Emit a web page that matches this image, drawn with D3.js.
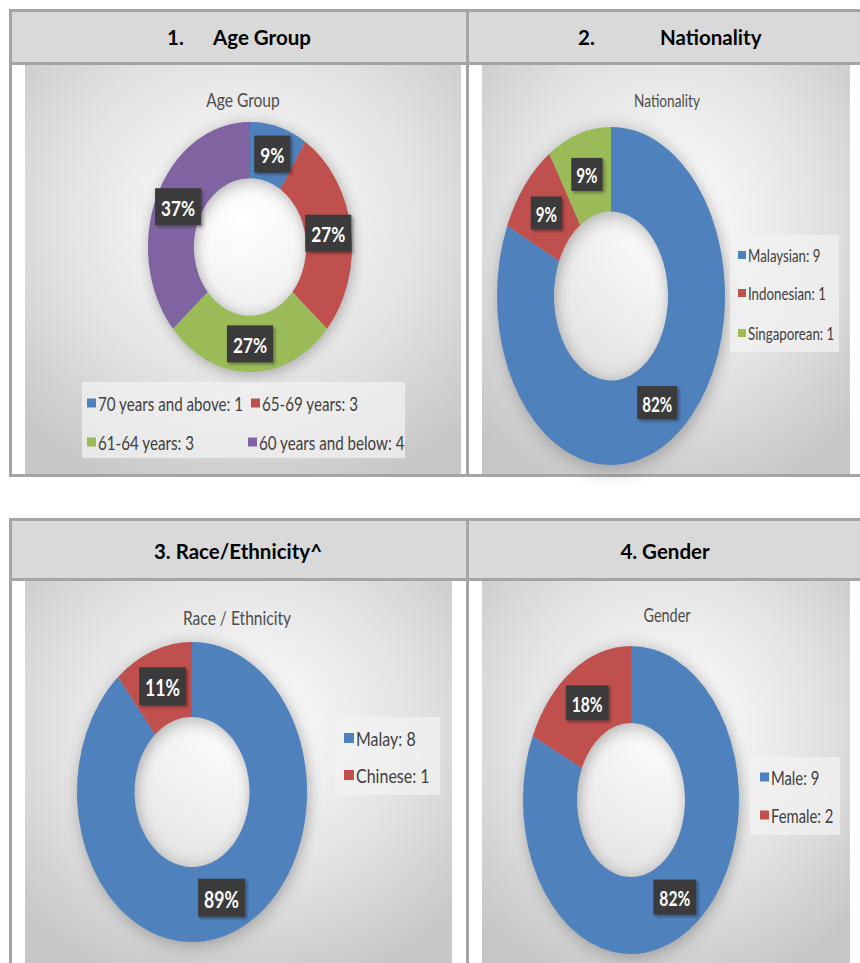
<!DOCTYPE html>
<html>
<head>
<meta charset="utf-8">
<script src="https://cdn.jsdelivr.net/npm/d3@7"></script>
<style>
  html, body { margin: 0; padding: 0; background: #fff; }
  svg { display: block; }
</style>
</head>
<body>
<svg id="chart" width="860" height="963"></svg>
<script>
// data
const ageCats = ['70 years and above', '65-69 years', '61-64 years', '60 years and below'];
const ageCounts = [1, 3, 3, 4];
const agePct = ['9%', '27%', '27%', '37%'];

const natCats = ['Malaysian', 'Indonesian', 'Singaporean'];
const natCounts = [9, 1, 1];
const natPct = ['82%', '9%', '9%'];

const raceCats = ['Malay', 'Chinese'];
const raceCounts = [8, 1];
const racePct = ['89%', '11%'];

const genderCats = ['Male', 'Female'];
const genderCounts = [9, 2];
const genderPct = ['82%', '18%'];

const seriesColors = ['#4f81bd', '#c0504d', '#9bbb59', '#8064a2'];

const svg = d3.select('#chart');
const defs = svg.append('defs');

const bg = defs.append('radialGradient').attr('id', 'bgGrad')
  .attr('cx', '50%').attr('cy', '38%').attr('r', '72%');
bg.append('stop').attr('offset', '0%').attr('stop-color', '#ffffff');
bg.append('stop').attr('offset', '55%').attr('stop-color', '#e4e4e4');
bg.append('stop').attr('offset', '100%').attr('stop-color', '#c6c6c6');

const shadow = defs.append('filter').attr('id', 'ringShadow')
  .attr('x', '-30%').attr('y', '-30%').attr('width', '160%').attr('height', '160%');
shadow.append('feGaussianBlur').attr('stdDeviation', 6);

const boxShadow = defs.append('filter').attr('id', 'boxShadow')
  .attr('x', '-30%').attr('y', '-30%').attr('width', '160%').attr('height', '160%');
boxShadow.append('feDropShadow').attr('dx', 2).attr('dy', 2)
  .attr('stdDeviation', 1.5).attr('flood-opacity', 0.35);

const chartFont = 'Lato, "Open Sans", sans-serif';
const headFont = 'Lato, "Open Sans", sans-serif';

// table frames
function drawTable(top, headBottom, bottom) {
  const t = svg.append('g');
  t.append('rect').attr('x', 10.5).attr('y', top).attr('width', 880).attr('height', headBottom - top)
    .attr('fill', '#d9d9d9');
  t.append('line').attr('x1', 10.5).attr('x2', 870).attr('y1', top).attr('y2', top)
    .attr('stroke', '#a5a5a5').attr('stroke-width', 3);
  t.append('line').attr('x1', 10.5).attr('x2', 870).attr('y1', headBottom).attr('y2', headBottom)
    .attr('stroke', '#a5a5a5').attr('stroke-width', 3);
  if (bottom < 963) {
    t.append('line').attr('x1', 10.5).attr('x2', 870).attr('y1', bottom).attr('y2', bottom)
      .attr('stroke', '#a5a5a5').attr('stroke-width', 3);
  }
  t.append('line').attr('x1', 10.5).attr('x2', 10.5).attr('y1', top - 1.5).attr('y2', bottom + 1.5)
    .attr('stroke', '#a5a5a5').attr('stroke-width', 3);
  t.append('line').attr('x1', 467.5).attr('x2', 467.5).attr('y1', top).attr('y2', bottom + 1.5)
    .attr('stroke', '#a5a5a5').attr('stroke-width', 3);
  return t;
}

function headText(parts, y) {
  const txt = svg.append('text')
    .attr('y', y)
    .attr('font-family', headFont)
    .attr('font-weight', 700)
    .attr('font-size', 20.5)
    .attr('fill', '#000');
  parts.forEach(p => txt.append('tspan').attr('x', p.x).attr('text-anchor', p.anchor || 'start').text(p.text));
}

function squeezed(g, x, y, str, size, sx, opts = {}) {
  return g.append('text')
    .attr('transform', `translate(${x},${y}) scale(${sx},1)`)
    .attr('text-anchor', opts.anchor || 'start')
    .attr('dominant-baseline', 'central')
    .attr('font-family', chartFont)
    .attr('font-weight', opts.weight || 400)
    .attr('font-size', size)
    .attr('fill', opts.fill || '#404040')
    .text(str);
}

function drawPanel(cfg) {
  const g = svg.append('g');
  g.append('rect')
    .attr('x', cfg.box[0]).attr('y', cfg.box[1])
    .attr('width', cfg.box[2] - cfg.box[0]).attr('height', cfg.box[3] - cfg.box[1])
    .attr('fill', 'url(#bgGrad)');

  squeezed(g, cfg.title[0], cfg.title[1], cfg.titleText, cfg.titleSize, cfg.sx,
    { anchor: 'middle', fill: '#4d4d4d' });

  const pie = d3.pie().sort(null).value(d => d)(cfg.counts);
  const arc = d3.arc().innerRadius(cfg.inner * 100).outerRadius(100);

  const ring = g.append('g')
    .attr('transform', `translate(${cfg.cx},${cfg.cy}) scale(${cfg.rx / 100},${cfg.ry / 100})`);

  ring.append('g').attr('filter', 'url(#ringShadow)').attr('opacity', 0.45)
    .attr('transform', 'translate(1.5,2)')
    .selectAll('path').data(pie).join('path')
    .attr('d', arc).attr('fill', '#555');

  ring.selectAll('path.slice').data(pie).join('path')
    .attr('class', 'slice')
    .attr('d', arc)
    .attr('fill', (d, i) => seriesColors[i])
    .attr('stroke', 'none');

  // data labels at ring centroid
  pie.forEach((d, i) => {
    const c = arc.centroid(d);
    const x = cfg.cx + c[0] * cfg.rx / 100;
    const y = cfg.cy + c[1] * cfg.ry / 100;
    const lg = g.append('g');
    const rect = lg.append('rect').attr('fill', '#3a3a3a').attr('filter', 'url(#boxShadow)');
    const t = squeezed(lg, x, y + 1, cfg.pct[i], cfg.labelSize, cfg.sx,
      { anchor: 'middle', fill: '#ffffff', weight: 700 });
    const w = t.node().getComputedTextLength() * cfg.sx + cfg.padX * 2;
    rect.attr('x', x - w / 2).attr('y', y - cfg.boxH / 2).attr('width', w).attr('height', cfg.boxH);
  });

  // legend
  const lb = cfg.legendBox;
  g.append('rect').attr('x', lb[0]).attr('y', lb[1])
    .attr('width', lb[2] - lb[0]).attr('height', lb[3] - lb[1])
    .attr('fill', '#f2f2f2').attr('fill-opacity', 0.75);
  cfg.cats.forEach((c, i) => {
    const p = cfg.legendPos[i];
    g.append('rect')
      .attr('x', p[0]).attr('y', p[1] - cfg.sq / 2)
      .attr('width', cfg.sq).attr('height', cfg.sq)
      .attr('fill', seriesColors[i]);
    squeezed(g, p[0] + cfg.sq + 2, p[1] + 0.5, `${c}: ${cfg.counts[i]}`, cfg.legendSize, cfg.sx);
  });
}

drawTable(10.5, 63.5, 475.5);
drawTable(519.5, 579.5, 980);

drawPanel({
  box: [25, 65, 461, 474], title: [243, 100], titleText: 'Age Group', titleSize: 19, sx: 0.82,
  cats: ageCats, counts: ageCounts, pct: agePct,
  cx: 250, cy: 247, rx: 102, ry: 125, inner: 0.55,
  labelSize: 21, boxH: 37, padX: 6,
  legendBox: [82, 382, 405, 458], sq: 9, legendSize: 18.5,
  legendPos: [[87, 403], [251, 403], [87, 442], [248, 442]]
});

drawPanel({
  box: [482, 65, 850, 474], title: [667, 100], titleText: 'Nationality', titleSize: 18, sx: 0.76,
  cats: natCats, counts: natCounts, pct: natPct,
  cx: 611, cy: 296, rx: 114, ry: 169, inner: 0.5,
  labelSize: 20, boxH: 33, padX: 5,
  legendBox: [730, 235, 839, 352], sq: 8, legendSize: 17.5,
  legendPos: [[738, 255], [738, 293], [738, 333]]
});

drawPanel({
  box: [25, 581, 452, 963], title: [237, 618], titleText: 'Race / Ethnicity', titleSize: 19.5, sx: 0.8,
  cats: raceCats, counts: raceCounts, pct: racePct,
  cx: 192, cy: 792, rx: 115, ry: 150, inner: 0.5,
  labelSize: 22, boxH: 38, padX: 6,
  legendBox: [335, 717, 440, 795], sq: 10, legendSize: 20,
  legendPos: [[344, 738], [344, 775]]
});

drawPanel({
  box: [482, 581, 850, 963], title: [667, 615], titleText: 'Gender', titleSize: 18.5, sx: 0.78,
  cats: genderCats, counts: genderCounts, pct: genderPct,
  cx: 631, cy: 800, rx: 108, ry: 154, inner: 0.5,
  labelSize: 20, boxH: 35, padX: 6,
  legendBox: [750, 757, 840, 835], sq: 9, legendSize: 19,
  legendPos: [[760, 777], [760, 815]]
});

headText([{ x: 167, text: '1.' }, { x: 213, text: 'Age Group' }], 45);
headText([{ x: 578, text: '2.' }, { x: 660, text: 'Nationality' }], 45);
headText([{ x: 238, text: '3. Race/Ethnicity^', anchor: 'middle' }], 559);
headText([{ x: 665, text: '4. Gender', anchor: 'middle' }], 559);
</script>
</body>
</html>
